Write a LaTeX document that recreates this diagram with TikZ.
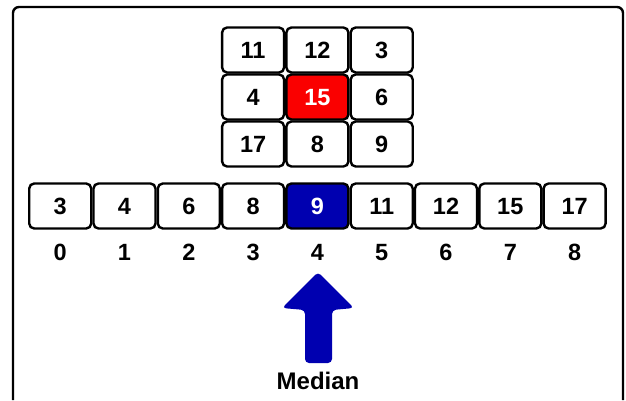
\documentclass[tikz,border=0pt]{standalone}
\usepackage{fontspec}
\setmainfont{Liberation Sans}
\definecolor{medblue}{RGB}{0,0,176}
\definecolor{hotred}{RGB}{250,0,0}
\tikzset{cell/.style={draw, line width=2.4pt, rounded corners=5pt, fill=white, minimum width=62pt, minimum height=45pt, inner sep=0pt, text height=17pt, text depth=0pt, font=\fontsize{23.5}{23.5}\selectfont\bfseries}}
\tikzset{plain/.style={}}
\tikzset{redcell/.style={fill=hotred, text=white}}
\tikzset{bluecell/.style={fill=medblue, text=white}}
\tikzset{idx/.style={inner sep=0pt, text height=17pt, text depth=0pt, font=\fontsize{23.5}{23.5}\selectfont\bfseries}}

\begin{document}
\begin{tikzpicture}[x=1pt, y=-1pt]
    \useasboundingbox (0,0) rectangle (626,400);
    \draw[line width=2.4pt, rounded corners=6pt] (13,400) -- (13,7) -- (623,7) -- (623,400);
    % 3x3 window
    \foreach \v/\s [count=\k from 0] in {11/plain, 12/plain, 3/plain, 4/plain, 15/redcell, 6/plain, 17/plain, 8/plain, 9/plain} {
        \pgfmathtruncatemacro\r{floor(\k/3)}
        \pgfmathtruncatemacro\c{mod(\k,3)}
        \node[cell, \s] (g\r\c) at (253.1+64.3*\c, 50+47*\r) {\v};
    }
    % sorted values and their indices
    \foreach \v/\s [count=\i from 0] in {3/plain, 4/plain, 6/plain, 8/plain, 9/bluecell, 11/plain, 12/plain, 15/plain, 17/plain} {
        \node[cell, \s] (s\i) at (60.2+64.3*\i, 206) {\v};
        \node[idx] (n\i) at (60.2+64.3*\i, 252) {\i};
    }
    \node[idx, font=\fontsize{24}{24}\selectfont\bfseries] (med) at (318,381) {Median};
    \fill[medblue, rounded corners=4pt] (318,272) -- (354,308) -- (332,310) -- (332,363)
        -- (305,363) -- (305,310) -- (282,308) -- cycle;
\end{tikzpicture}
\end{document}
